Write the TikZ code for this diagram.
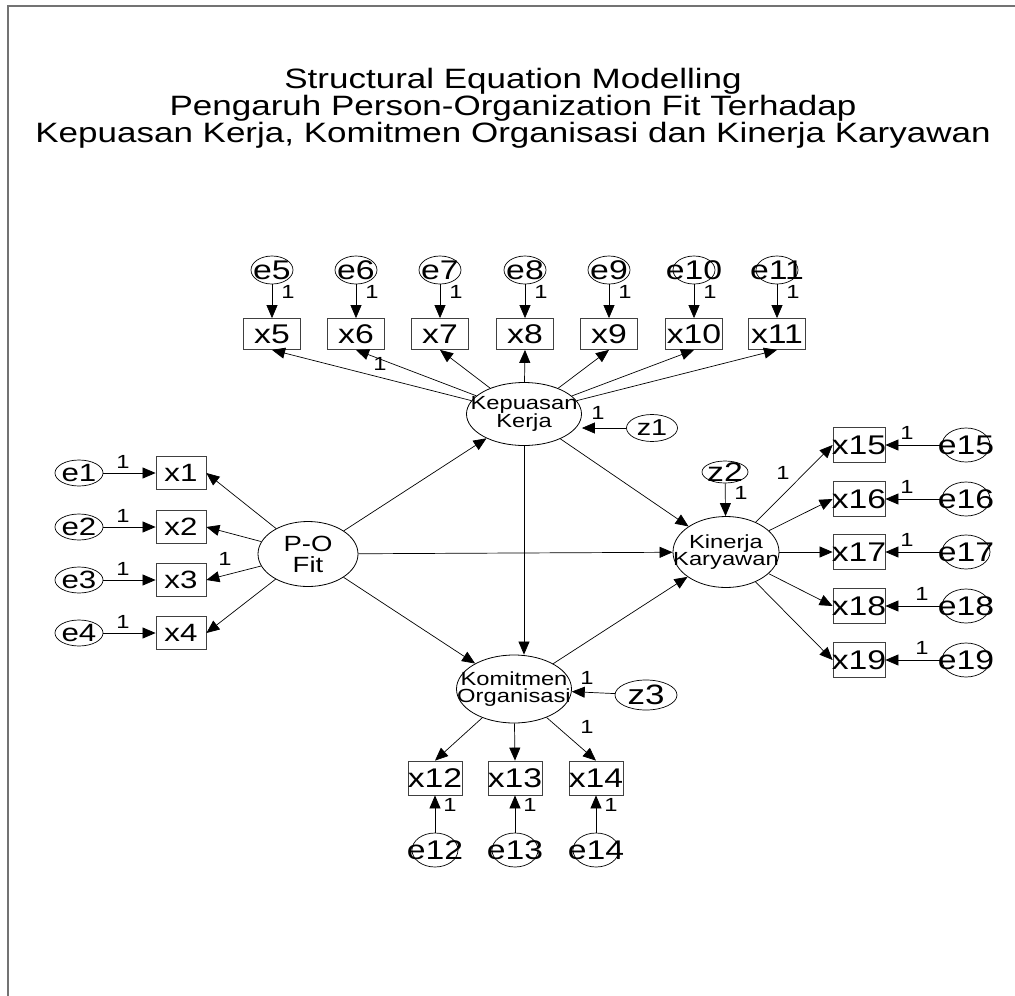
\documentclass[tikz,border=0pt]{standalone}
\usepackage{fontspec}
\newfontfamily\amos[FakeStretch=1.25]{Liberation Sans}
\usetikzlibrary{arrows.meta,shapes.geometric}
\begin{document}
\begin{tikzpicture}[x=1pt,y=-1pt,
  every node/.style={font=\amos},
  obs/.style 2 args={rectangle, draw=black!75, line width=0.8pt, minimum width=#1, minimum height=#2, inner sep=0pt},
  err/.style 2 args={ellipse, draw, line width=0.7pt, minimum width=#1, minimum height=#2, inner sep=0pt},
  lat/.style 2 args={ellipse, draw, line width=0.8pt, minimum width=#1, minimum height=#2, inner sep=0pt},
  vtxt/.style={inner sep=0pt, font=\amos\fontsize{27}{27}\selectfont},
  vtxtl/.style={inner sep=0pt, font=\amos\fontsize{25}{25}\selectfont},
  ztxt/.style={inner sep=0pt, font=\amos\fontsize{#1}{#1}\selectfont},
  ltxt/.style={inner sep=0pt, align=center, font=\amos\fontsize{19}{17.5}\selectfont},
  one/.style={inner sep=0pt, font=\amos\fontsize{19}{19}\selectfont},
  arr/.style={-{Triangle[length=13pt,width=11pt]}, line width=0.7pt},
]
\useasboundingbox (0,0) rectangle (1015,996);
% frame
\draw[line width=2pt, black!55] (8,1010) -- (8,6) -- (1020,6);

% title
\node[align=center, inner sep=0pt, font=\amos\fontsize{28}{23}\selectfont] (title) at (513,108)
  {Structural Equation Modelling\\Pengaruh Person-Organization Fit Terhadap\\Kepuasan Kerja, Komitmen Organisasi dan Kinerja Karyawan};

% latent variables
\node[lat={100pt}{65pt}, label={[ltxt, font=\amos\fontsize{22}{21}\selectfont]center:P-O\\Fit}] (po) at (308,554) {};
\node[lat={115pt}{63pt}, label={[ltxt]center:Kepuasan\\Kerja}] (kk) at (524,414) {};
\node[lat={106pt}{71pt}, label={[ltxt]center:Kinerja\\Karyawan}] (ki) at (726,552) {};
\node[lat={115pt}{68pt}, label={[ltxt]center:Komitmen\\Organisasi}] (ko) at (514,689) {};

% disturbances
\node[err={51pt}{27pt}, label={[ztxt=23]center:z1}] (z1) at (652,428) {};
\node[err={46pt}{22pt}, label={[ztxt=27]center:z2}] (z2) at (725,472) {};
\node[err={62pt}{30pt}, label={[ztxt=28]center:z3}] (z3) at (646,695) {};

% indicators of Kepuasan Kerja
\foreach \i/\x in {5/272,6/356,7/440,8/525,9/609,10/694,11/777} {
  \node[err={42pt}{28pt}, label={[vtxt]center:e\i}] (e\i) at (\x,270) {};
  \node[obs={57pt}{31pt}, label={[vtxt]center:x\i}] (x\i) at (\x,334) {};
  \draw[arr] (e\i) -- (x\i);
  \node[one] (w\i) at (\x+16,292) {1};
  \draw[arr] (kk) -- (x\i.south);
}
\node[one] (wk) at (380,364) {1};

% indicators of P-O Fit
\foreach \i/\y in {1/473,2/527,3/580,4/633} {
  \node[err={48pt}{26pt}, label={[vtxtl]center:e\i}] (e\i) at (79,\y) {};
  \node[obs={50pt}{33pt}, label={[vtxtl]center:x\i}] (x\i) at (181,\y) {};
  \draw[arr] (e\i) -- (x\i);
  \node[one] (w\i) at (123,\y-11) {1};
  \draw[arr] (po) -- (x\i.east);
}
\node[one] (wp) at (225,559) {1};

% indicators of Kinerja Karyawan
\foreach \i/\y/\lx in {15/445/907,16/499/907,17/552/907,18/606/922,19/660/922} {
  \node[obs={52pt}{35pt}, label={[vtxt]center:x\i}] (x\i) at (859,\y) {};
  \node[err={48pt}{34pt}, label={[vtxt]center:e\i}] (e\i) at (966,\y) {};
  \draw[arr] (e\i) -- (x\i);
  \node[one] (w\i) at (\lx,\y-12) {1};
  \draw[arr] (ki) -- (x\i.west);
}
\node[one] (wi) at (783,473) {1};

% indicators of Komitmen Organisasi
\foreach \i/\x in {12/435,13/515,14/596} {
  \node[obs={54pt}{34pt}, label={[vtxt]center:x\i}] (x\i) at (\x,778) {};
  \node[err={46pt}{34pt}, label={[vtxt]center:e\i}] (e\i) at (\x,850) {};
  \draw[arr] (e\i) -- (x\i);
  \node[one] (w\i) at (\x+15,805) {1};
  \draw[arr] (ko) -- (x\i.north);
}
\node[one] (wo) at (587,727) {1};

% structural paths
\draw[arr] (po) -- (kk);
\draw[arr] (po) -- (ki);
\draw[arr] (po) -- (ko);
\draw[arr] (kk.south) -- (kk.south |- ko.north);
\draw[arr] (kk) -- (ki);
\draw[arr] (ko) -- (ki);

% disturbance paths
\draw[arr] (z1.west) -- (kk.east |- z1.west);
\node[one] (wz1) at (598,413) {1};
\draw[arr] (z2) -- (ki);
\node[one] (wz2) at (741,493) {1};
\draw[arr] (z3) -- (ko);
\node[one] (wz3) at (587,678) {1};
\end{tikzpicture}
\end{document}
